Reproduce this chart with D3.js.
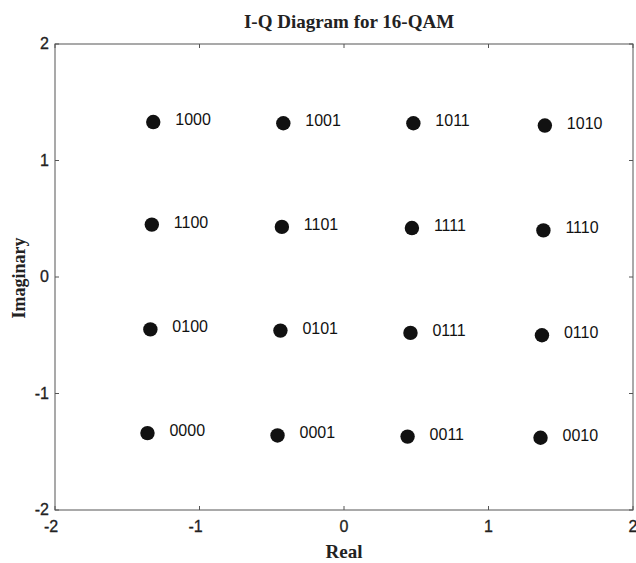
<!DOCTYPE html>
<html>
<head>
<meta charset="utf-8">
<script src="https://cdn.jsdelivr.net/npm/d3@7"></script>
<style>
  body { margin: 0; background: #fff; }
  svg { display: block; }
</style>
</head>
<body>
<script>
let w = 636;
let h = 563;
let svg = d3.select("body").append("svg").attr("width", w).attr("height", h);

// data
let labels = ["1000", "1001", "1011", "1010",
              "1100", "1101", "1111", "1110",
              "0100", "0101", "0111", "0110",
              "0000", "0001", "0011", "0010"];
let realVals = [-1.32, -0.42, 0.48, 1.39,
                -1.33, -0.43, 0.47, 1.38,
                -1.34, -0.44, 0.46, 1.37,
                -1.36, -0.46, 0.44, 1.36];
let imagVals = [1.33, 1.32, 1.32, 1.30,
                0.45, 0.43, 0.42, 0.40,
                -0.45, -0.46, -0.48, -0.50,
                -1.34, -1.36, -1.37, -1.38];
let ticks = [-2, -1, 0, 1, 2];

let padding = { top: 44, left: 55, right: 3, bottom: 53 };

let scaleX = d3.scaleLinear().domain([-2, 2]).range([padding.left, w - padding.right]);
let scaleY = d3.scaleLinear().domain([-2, 2]).range([h - padding.bottom, padding.top]);

let sans = "Liberation Sans, Arial, sans-serif";
let serif = "Liberation Serif, Times New Roman, serif";

let DrawFrame = () =>
{
  svg.append("rect")
    .attr("x", scaleX(-2))
    .attr("y", scaleY(2))
    .attr("width", scaleX(2) - scaleX(-2))
    .attr("height", scaleY(-2) - scaleY(2))
    .attr("fill", "none")
    .attr("stroke", "#555")
    .attr("stroke-width", 1);

  let tl = 4;
  ticks.forEach(t =>
  {
    svg.append("line").attr("x1", scaleX(t)).attr("x2", scaleX(t))
      .attr("y1", scaleY(-2)).attr("y2", scaleY(-2) - tl).attr("stroke", "#555");
    svg.append("line").attr("x1", scaleX(t)).attr("x2", scaleX(t))
      .attr("y1", scaleY(2)).attr("y2", scaleY(2) + tl).attr("stroke", "#555");
    svg.append("line").attr("y1", scaleY(t)).attr("y2", scaleY(t))
      .attr("x1", scaleX(-2)).attr("x2", scaleX(-2) + tl).attr("stroke", "#555");
    svg.append("line").attr("y1", scaleY(t)).attr("y2", scaleY(t))
      .attr("x1", scaleX(2)).attr("x2", scaleX(2) - tl).attr("stroke", "#555");
  });

  svg.selectAll(".xtick").data(ticks).enter().append("text")
    .attr("class", "xtick")
    .attr("x", d => scaleX(d) - (d < 0 ? 4 : 0))
    .attr("y", scaleY(-2) + 22)
    .attr("text-anchor", "middle")
    .attr("font-family", sans)
    .attr("font-size", "16px")
    .attr("fill", "#222")
    .attr("stroke", "#222")
    .attr("stroke-width", 0.3)
    .text(d => d);

  svg.selectAll(".ytick").data(ticks).enter().append("text")
    .attr("class", "ytick")
    .attr("x", scaleX(-2) - 6)
    .attr("y", d => scaleY(d) + 5)
    .attr("text-anchor", "end")
    .attr("font-family", sans)
    .attr("font-size", "16px")
    .attr("fill", "#222")
    .attr("stroke", "#222")
    .attr("stroke-width", 0.3)
    .text(d => d);
}

let DrawText = () =>
{
  svg.append("text")
    .text("I-Q Diagram for 16-QAM")
    .attr("x", 349)
    .attr("y", 28)
    .attr("text-anchor", "middle")
    .attr("font-family", serif)
    .attr("font-weight", "bold")
    .attr("font-size", "19px")
    .attr("fill", "#222");
  svg.append("text")
    .text("Real")
    .attr("x", scaleX(0))
    .attr("y", 558)
    .attr("text-anchor", "middle")
    .attr("font-family", serif)
    .attr("font-weight", "bold")
    .attr("font-size", "19px")
    .attr("fill", "#222");
  svg.append("text")
    .text("Imaginary")
    .attr("transform", "translate(25," + (scaleY(0) + 1) + ") rotate(-90)")
    .attr("text-anchor", "middle")
    .attr("font-family", serif)
    .attr("font-weight", "bold")
    .attr("font-size", "18px")
    .attr("fill", "#222");
}

let DrawDots = () =>
{
  let pts = labels.map((l, i) => ({ label: l, re: realVals[i], im: imagVals[i] }));
  svg.selectAll("circle").data(pts).enter().append("circle")
    .attr("cx", d => scaleX(d.re))
    .attr("cy", d => scaleY(d.im))
    .attr("r", 7.2)
    .attr("fill", "#111");
  svg.selectAll(".lbl").data(pts).enter().append("text")
    .attr("class", "lbl")
    .attr("x", d => scaleX(d.re) + 22)
    .attr("y", d => scaleY(d.im) + 3)
    .attr("font-family", sans)
    .attr("font-size", "16px")
    .attr("fill", "#111")
    .text(d => d.label);
}

DrawFrame();
DrawText();
DrawDots();
</script>
</body>
</html>
